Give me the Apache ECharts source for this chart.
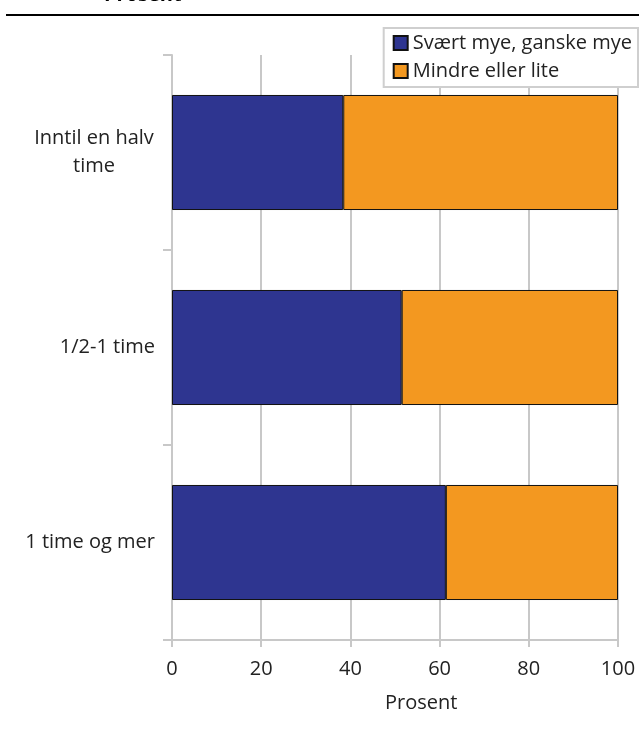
<!DOCTYPE html>
<html>
<head>
<meta charset="utf-8">
<script src="https://cdn.jsdelivr.net/npm/echarts@6/dist/echarts.min.js"></script>
<style>html,body{margin:0;padding:0;background:#fff}#c{width:639px;height:729px}</style>
</head>
<body>
<div id="c"></div>
<script>
const categories = ['Inntil en halv time', '1/2-1 time', '1 time og mer'];
const seriesNames = ['Svært mye, ganske mye', 'Mindre eller lite'];
const muchValues = [38.4, 51.5, 61.4];
const lessValues = [61.6, 48.5, 38.6];
const xTicks = [0, 20, 40, 60, 80, 100];

const FONT = '"Open Sans", sans-serif';
const FS = 20;
const TXT = '#222';
const GRIDC = '#c8c8c8';

const chart = echarts.init(document.getElementById('c'), null, {renderer: 'canvas'});
chart.setOption({
  animation: false,
  backgroundColor: '#fff',
  textStyle: {fontFamily: FONT},
  grid: {left: 172, right: 21, top: 55, bottom: 89, containLabel: false},
  legend: {
    orient: 'vertical',
    right: 1,
    top: 28,
    padding: [5, 6, 6, 9],
    itemGap: 8,
    itemWidth: 14,
    itemHeight: 14,
    backgroundColor: '#fff',
    borderColor: '#cfcfcf',
    borderWidth: 2,
    borderRadius: 0,
    icon: 'rect',
    textStyle: {fontFamily: FONT, fontSize: FS, color: TXT, padding: [0, 0, 0, 0], lineHeight: 18},
    data: seriesNames
  },
  xAxis: {
    type: 'value',
    min: xTicks[0],
    max: xTicks[xTicks.length - 1],
    interval: 20,
    axisLine: {show: true, lineStyle: {color: GRIDC, width: 2}},
    axisTick: {show: true, length: 7, lineStyle: {color: GRIDC, width: 2}},
    splitLine: {show: true, lineStyle: {color: GRIDC, width: 2}},
    axisLabel: {fontFamily: FONT, fontSize: FS, color: TXT, margin: 19}
  },
  yAxis: {
    type: 'category',
    inverse: true,
    data: categories,
    axisLine: {show: true, lineStyle: {color: GRIDC, width: 2}},
    axisTick: {show: true, length: 9, lineStyle: {color: GRIDC, width: 2}},
    axisLabel: {
      fontFamily: FONT, fontSize: FS, color: TXT, margin: 17, lineHeight: 28,
      formatter: function (v) {
        if (v === 'Inntil en halv time') return '{c|Inntil en halv}\n{c|time}';
        return v;
      },
      rich: {c: {fontFamily: FONT, fontSize: FS, color: TXT, width: 122, align: 'center', lineHeight: 28}}
    }
  },
  series: [
    {
      name: seriesNames[0], type: 'bar', stack: 'total', data: muchValues,
      barCategoryGap: '41%',
      itemStyle: {color: '#2e3590', borderColor: '#111', borderWidth: 1}
    },
    {
      name: seriesNames[1], type: 'bar', stack: 'total', data: lessValues,
      barCategoryGap: '41%',
      itemStyle: {color: '#f39820', borderColor: '#111', borderWidth: 1}
    }
  ],
  graphic: [
    {type: 'line', shape: {x1: 6, y1: 15, x2: 639, y2: 15}, style: {stroke: '#000', lineWidth: 2}},
    {type: 'text', x: 104, y: -15, style: {text: 'Prosent', font: 'bold 20px "Open Sans", sans-serif', fill: '#000'}},
    {type: 'text', left: 385, top: 693, style: {text: 'Prosent', font: '20px "Open Sans", sans-serif', fill: TXT}}
  ]
});
</script>
</body>
</html>
